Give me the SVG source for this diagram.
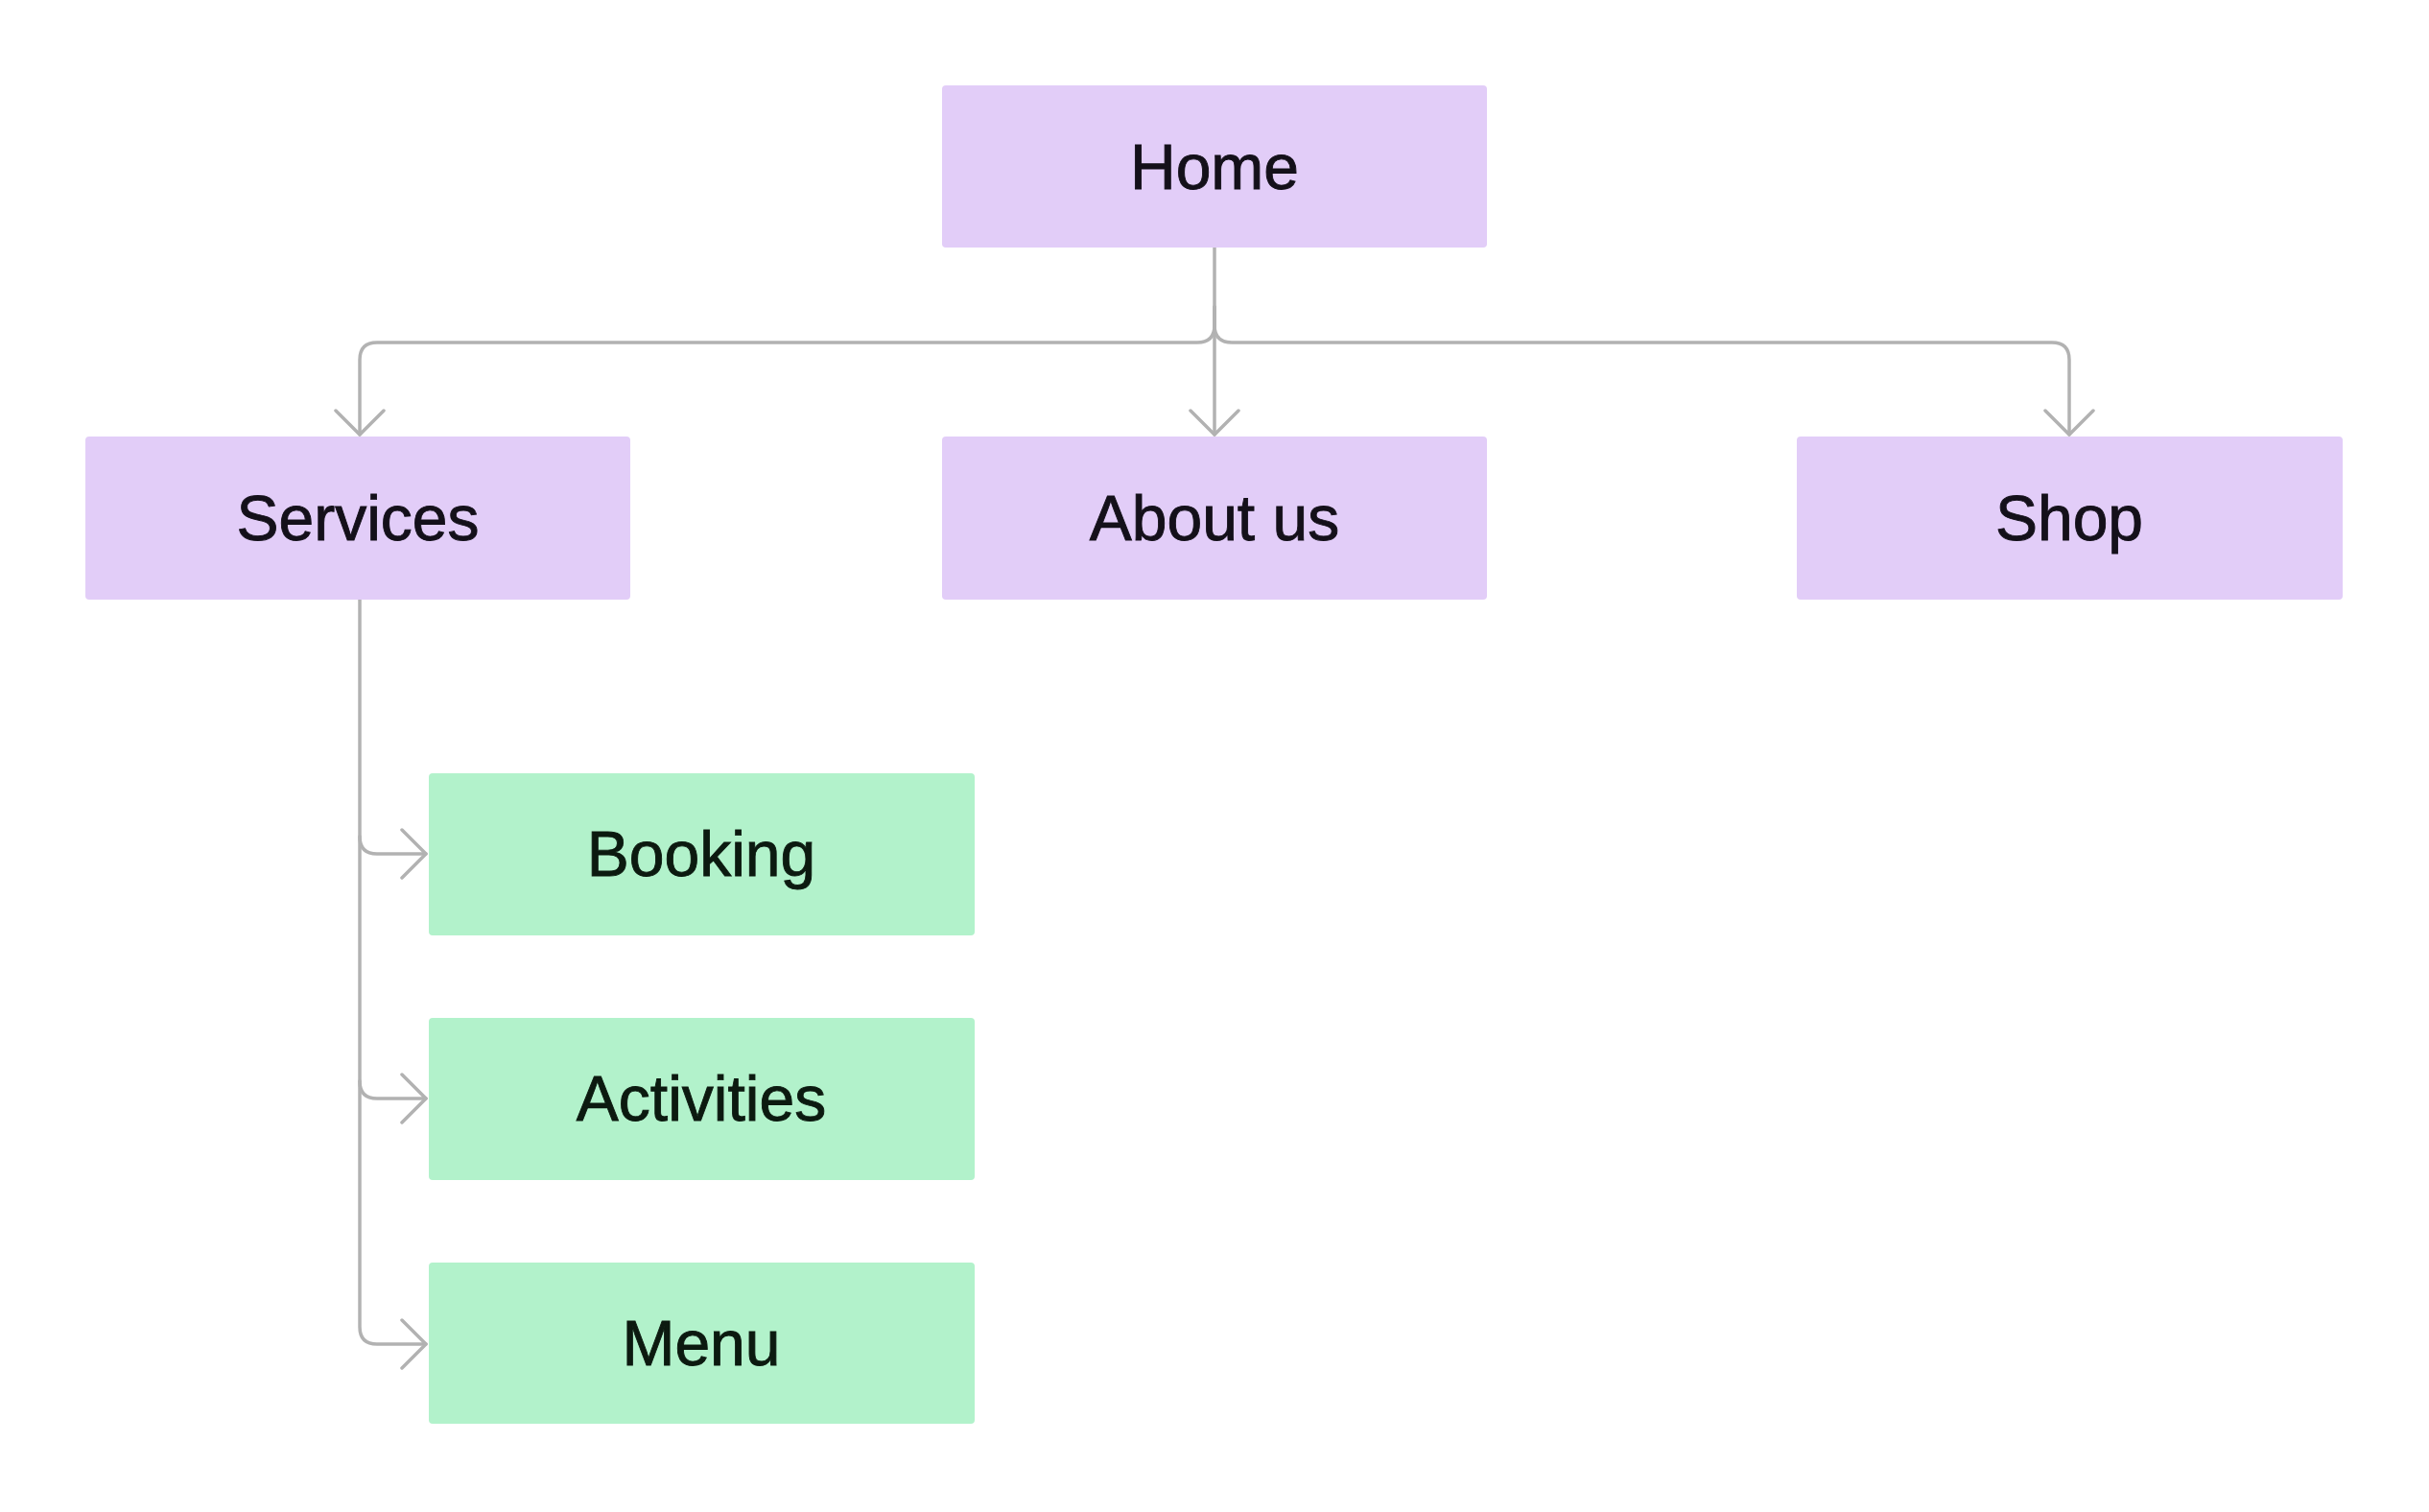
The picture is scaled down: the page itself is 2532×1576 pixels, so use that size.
<svg xmlns="http://www.w3.org/2000/svg" width="2532" height="1576" viewBox="0 0 2532 1576">
<defs>
<style>
.purple{fill:#e2cdf8;}
.green{fill:#b2f2cb;}
.lbl{font-family:"Liberation Sans",Arial,sans-serif;font-size:66px;fill:#14101a;stroke:#14101a;stroke-width:0.9;text-anchor:middle;}
.gl{fill:#0c1a10;stroke:#0c1a10;}
.edge{fill:none;stroke:#b2b2b2;stroke-width:3.5;stroke-linecap:round;stroke-linejoin:round;}
</style>
<marker id="arr" viewBox="0 0 30 56" refX="28" refY="28" markerWidth="30" markerHeight="56" markerUnits="userSpaceOnUse" orient="auto">
<path d="M3 3 L28 28 L3 53" fill="none" stroke="#b2b2b2" stroke-width="3.5" stroke-linecap="round" stroke-linejoin="round"/>
</marker>
</defs>
<rect width="2532" height="1576" fill="#ffffff"/>
<g id="connectors">
<path class="edge" d="M1266 258 V453" marker-end="url(#arr)"/>
<path class="edge" d="M1266 320 V339 Q1266 357 1248 357 H393 Q375 357 375 375 V453" marker-end="url(#arr)"/>
<path class="edge" d="M1266 320 V339 Q1266 357 1284 357 H2139 Q2157 357 2157 375 V453" marker-end="url(#arr)"/>
<path class="edge" d="M375 625 V1383 Q375 1401 393 1401 H444" marker-end="url(#arr)"/>
<path class="edge" d="M375 872 Q375 890 393 890 H444" marker-end="url(#arr)"/>
<path class="edge" d="M375 1127 Q375 1145 393 1145 H444" marker-end="url(#arr)"/>
</g>
<g id="home"><rect class="purple" x="982" y="89" width="568" height="169" rx="4"/><text class="lbl" x="1266" y="197">Home</text></g>
<g id="services"><rect class="purple" x="89" y="455" width="568" height="170" rx="4"/><text class="lbl" x="373" y="563">Services</text></g>
<g id="about"><rect class="purple" x="982" y="455" width="568" height="170" rx="4"/><text class="lbl" x="1266" y="563">About us</text></g>
<g id="shop"><rect class="purple" x="1873" y="455" width="569" height="170" rx="4"/><text class="lbl" x="2157" y="563">Shop</text></g>
<g id="booking"><rect class="green" x="447" y="806" width="569" height="169" rx="4"/><text class="lbl gl" x="731" y="913">Booking</text></g>
<g id="activities"><rect class="green" x="447" y="1061" width="569" height="169" rx="4"/><text class="lbl gl" x="731" y="1168">Activities</text></g>
<g id="menu"><rect class="green" x="447" y="1316" width="569" height="168" rx="4"/><text class="lbl gl" x="731" y="1423">Menu</text></g>
</svg>
